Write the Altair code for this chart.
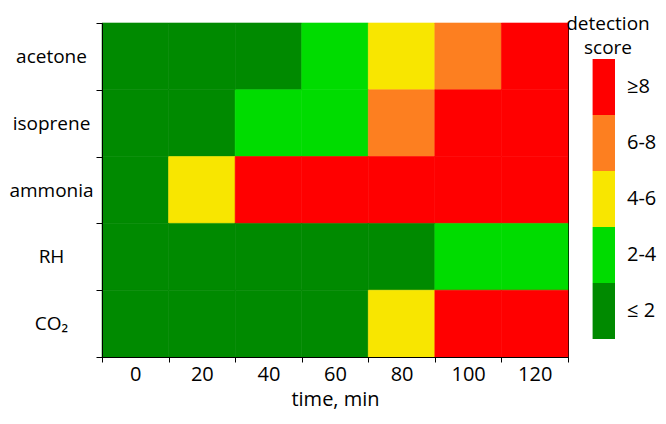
import altair as alt
import pandas as pd

substances = ["acetone", "isoprene", "ammonia", "RH", "CO₂"]
times = ["0", "20", "40", "60", "80", "100", "120"]
levels = ["≥8", "6-8", "4-6", "2-4", "≤ 2"]
colors = ["#ff0000", "#fd7f20", "#f8e600", "#00dc00", "#008a00"]

acetone = ["≤ 2", "≤ 2", "≤ 2", "2-4", "4-6", "6-8", "≥8"]
isoprene = ["≤ 2", "≤ 2", "2-4", "2-4", "6-8", "≥8", "≥8"]
ammonia = ["≤ 2", "4-6", "≥8", "≥8", "≥8", "≥8", "≥8"]
rh = ["≤ 2", "≤ 2", "≤ 2", "≤ 2", "≤ 2", "2-4", "2-4"]
co2 = ["≤ 2", "≤ 2", "≤ 2", "≤ 2", "4-6", "≥8", "≥8"]

rows = [acetone, isoprene, ammonia, rh, co2]
records = []
for name, row in zip(substances, rows):
    for t, s in zip(times, row):
        records.append({"substance": name, "time": t, "score": s})
df = pd.DataFrame(records)

FONT = "Open Sans"

color_scale = alt.Scale(domain=levels, range=colors)

chart = alt.Chart(df).mark_rect(strokeWidth=0.6).encode(
    x=alt.X("time:O", sort=times, title="time, min",
            axis=alt.Axis(labelAngle=0, tickBand="extent", tickSize=5,
                          labelPadding=2, titlePadding=5)),
    y=alt.Y("substance:O", sort=substances, title=None,
            axis=alt.Axis(tickBand="extent", tickSize=6, labelAlign="center",
                          labelPadding=45, labelFontSize=19)),
    stroke=alt.Stroke("score:N", scale=color_scale, legend=None),
    color=alt.Color("score:N", scale=color_scale,
                    legend=alt.Legend(title=["detection", "score"], orient="none",
                                      legendX=457, legendY=-8, padding=0,
                                      symbolType="M0.2,-1H1V1H0.2Z",
                                      symbolSize=3136, symbolStrokeWidth=0,
                                      rowPadding=0, labelOffset=12,
                                      labelFontSize=20, titleFontSize=19,
                                      titleFontWeight="normal", titleLineHeight=24,
                                      titleAlign="center", titleAnchor="middle",
                                      titlePadding=1, labelColor="black",
                                      titleColor="black", labelFont=FONT, titleFont=FONT)),
).properties(
    width=466, height=334,
    padding={"left": 0, "top": 6, "right": 0, "bottom": 2},
).configure_view(
    stroke="black", strokeWidth=1,
).configure_axis(
    domainColor="black", tickColor="black", labelColor="black", titleColor="black",
    labelFont=FONT, titleFont=FONT, labelFontSize=20, titleFontSize=20,
    titleFontWeight="normal",
)

chart.save("out.html", embed_options={"renderer": "svg", "actions": False})
